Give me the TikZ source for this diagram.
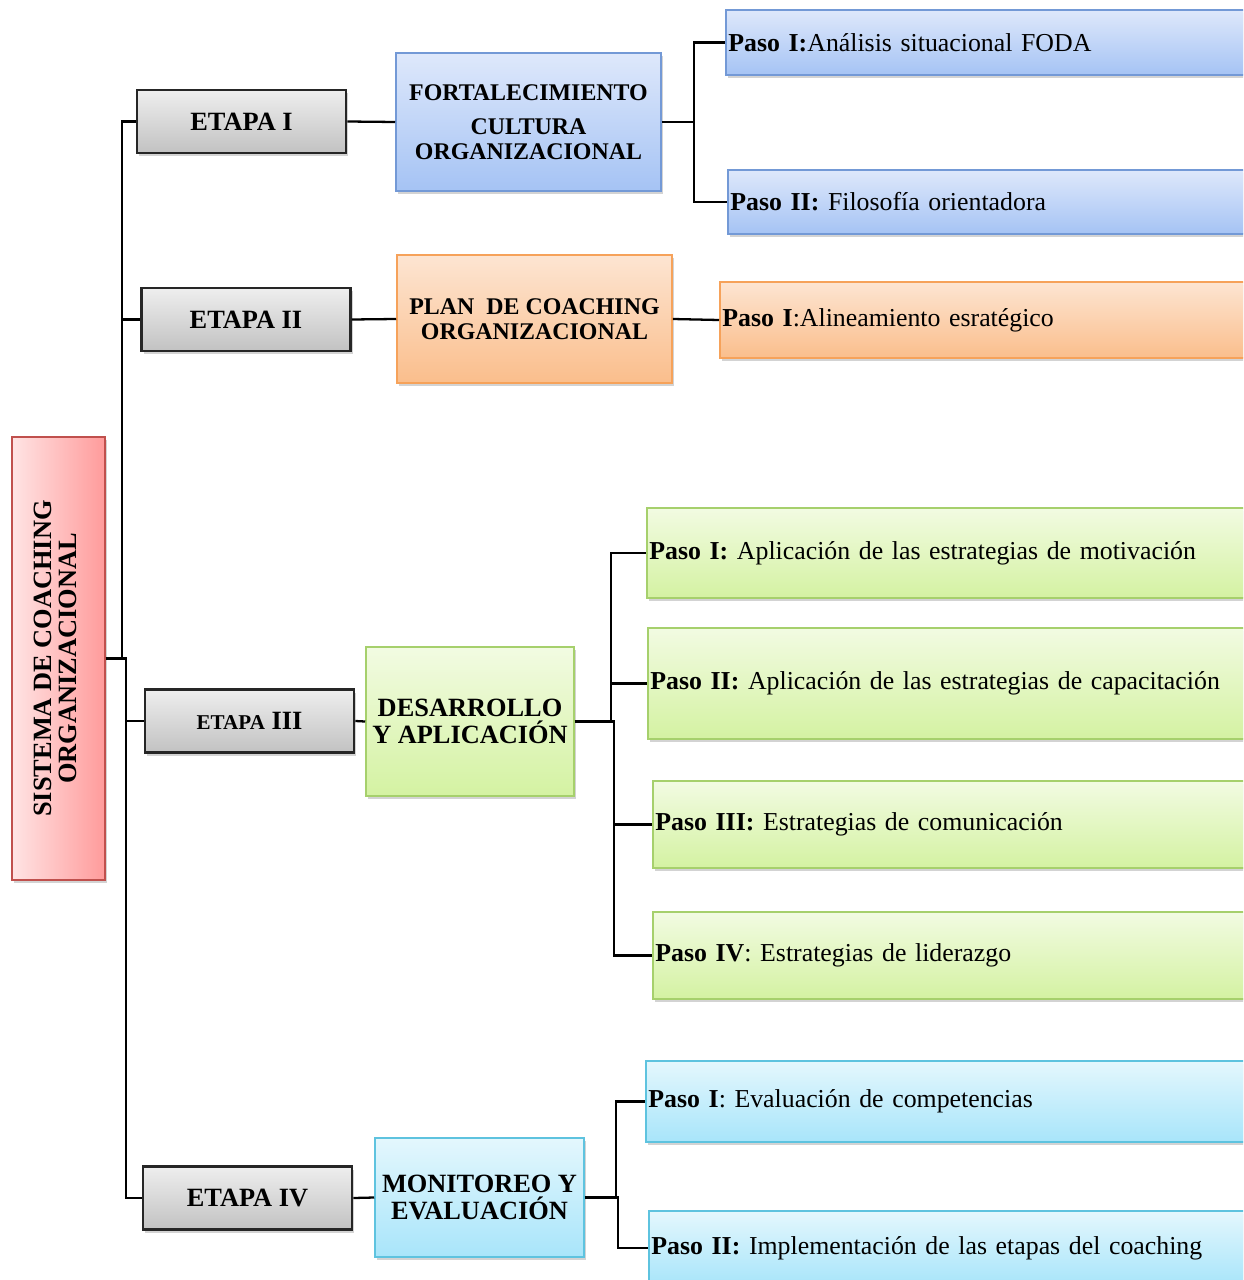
\documentclass[tikz,border=0pt]{standalone}
\usepackage{fontspec}
\setmainfont{Liberation Serif}
\usetikzlibrary{shapes,shadows,positioning}

\definecolor{grayTop}{HTML}{EEEEEE}
\definecolor{grayBot}{HTML}{C2C2C2}
\definecolor{redLeft}{HTML}{FFE4E4}
\definecolor{redRight}{HTML}{FF9B9B}
\definecolor{redEdge}{HTML}{C0504D}
\definecolor{blueTop}{HTML}{DEE8FB}
\definecolor{blueBot}{HTML}{A5C3F4}
\definecolor{blueEdge}{HTML}{7399D6}
\definecolor{orangeTop}{HTML}{FDE5D2}
\definecolor{orangeBot}{HTML}{FABE8C}
\definecolor{orangeEdge}{HTML}{F6A25A}
\definecolor{greenTop}{HTML}{F2FBE2}
\definecolor{greenBot}{HTML}{D4F2A2}
\definecolor{greenEdge}{HTML}{A6D06C}
\definecolor{cyanTop}{HTML}{E4F7FD}
\definecolor{cyanBot}{HTML}{A8E5FA}
\definecolor{cyanEdge}{HTML}{5EC3DF}

\begin{document}
\begin{tikzpicture}[x=0.02cm, y=-0.02cm, font=\fontsize{14.7}{15.5}\selectfont]
    \useasboundingbox (0,0) rectangle (1243,1280);
    \clip (0,0) rectangle (1243,1280);

    % Styles
    \tikzstyle{box} = [rectangle, line width=0.9pt, align=center, inner sep=2pt, drop shadow={shadow xshift=1.4pt, shadow yshift=-1.8pt, opacity=0.35}]
    \tikzstyle{etapa} = [box, draw=black!85, line width=1.5pt, top color=grayTop, bottom color=grayBot, minimum width=4.18cm, minimum height=1.26cm, font=\fontsize{15}{15.5}\selectfont\bfseries]
    \tikzstyle{title} = [box, font=\fontsize{15}{15.5}\selectfont\bfseries]
    \tikzstyle{paso} = [box, anchor=west, text width=12cm, align=left, inner xsep=1.5pt]
    \tikzstyle{blueset} = [draw=blueEdge, top color=blueTop, bottom color=blueBot]
    \tikzstyle{orangeset} = [draw=orangeEdge, top color=orangeTop, bottom color=orangeBot]
    \tikzstyle{greenset} = [draw=greenEdge, top color=greenTop, bottom color=greenBot]
    \tikzstyle{cyanset} = [draw=cyanEdge, top color=cyanTop, bottom color=cyanBot]
    \tikzstyle{wire} = [draw, line width=1.3pt]

    % Nodes
    \node [box, draw=redEdge, left color=redLeft, right color=redRight, minimum width=1.86cm, minimum height=8.86cm, font=\fontsize{15}{15.5}\selectfont\bfseries] (root) at (58.5,658.5)
        {\rotatebox{90}{\begin{tabular}{@{}c@{}}SISTEMA DE COACHING\\[-1pt] ORGANIZACIONAL\end{tabular}}};

    \node [etapa] (et1) at (241.5,121.5) {ETAPA I};
    \node [etapa] (et2) at (246,319.5) {ETAPA II};
    \node [etapa] (et3) at (249.5,721) {{\fontsize{12}{14}\selectfont ETAPA} III};
    \node [etapa] (et4) at (247.5,1198) {ETAPA IV};

    \node [title, blueset, minimum width=5.3cm, minimum height=2.76cm, font=\fontsize{13.6}{14.2}\selectfont\bfseries] (fort) at (528.5,122)
        {FORTALECIMIENTO\\[5pt] CULTURA\\ ORGANIZACIONAL};
    \node [title, orangeset, minimum width=5.5cm, minimum height=2.56cm, font=\fontsize{13.6}{14.2}\selectfont\bfseries] (plan) at (534.5,319)
        {PLAN \ DE COACHING\\ ORGANIZACIONAL};
    \node [title, greenset, minimum width=4.16cm, minimum height=2.98cm] (desa) at (470,721.5)
        {DESARROLLO\\ Y APLICACIÓN};
    \node [title, cyanset, minimum width=4.18cm, minimum height=2.38cm] (moni) at (479.5,1197.5)
        {MONITOREO Y\\ EVALUACIÓN};

    \node [paso, blueset, minimum height=1.3cm] (bp1) at (725,42.5) {\textbf{Paso I:}Análisis situacional FODA};
    \node [paso, blueset, minimum height=1.28cm] (bp2) at (727,202) {\textbf{Paso II:} Filosofía orientadora};
    \node [paso, orangeset, minimum height=1.52cm] (op1) at (719,320) {\textbf{Paso I}:Alineamiento esratégico};
    \node [paso, greenset, minimum height=1.8cm] (gp1) at (646,553) {\textbf{Paso I:} Aplicación de las estrategias de motivación};
    \node [paso, greenset, minimum height=2.22cm] (gp2) at (647,683.5) {\textbf{Paso II:} Aplicación de las estrategias de capacitación};
    \node [paso, greenset, minimum height=1.74cm] (gp3) at (652,824.5) {\textbf{Paso III:} Estrategias de comunicación};
    \node [paso, greenset, minimum height=1.74cm] (gp4) at (652,955.5) {\textbf{Paso IV}: Estrategias de liderazgo};
    \node [paso, cyanset, minimum height=1.62cm] (cp1) at (645,1101.5) {\textbf{Paso I}: Evaluación de competencias};
    \node [paso, cyanset, minimum height=1.48cm] (cp2) at (648,1248) {\textbf{Paso II:} Implementación de las etapas del coaching};

    % Edges
    \path [wire] (root.east) -- ++(16,0) |- (et1.west);
    \path [wire] (root.east) -- ++(16,0) |- (et2.west);
    \path [wire] (root.east) -- ++(20,0) |- (et3.west);
    \path [wire] (root.east) -- ++(20,0) |- (et4.west);

    \path [wire] (et1.east) -- (fort.west);
    \path [wire] (et2.east) -- (plan.west);
    \path [wire] (et3.east) -- (desa.west);
    \path [wire] (et4.east) -- (moni.west);

    % Steps of each stage
    \path [wire] (fort.east) -- ++(32,0) |- (bp1.west);
    \path [wire] (fort.east) -- ++(32,0) |- (bp2.west);
    \path [wire] (plan.east) -- (op1.west);
    \path [wire] (desa.east) -- ++(36,0) |- (gp1.west);
    \path [wire] (desa.east) -- ++(36,0) |- (gp2.west);
    \path [wire] (desa.east) -- ++(39,0) |- (gp3.west);
    \path [wire] (desa.east) -- ++(39,0) |- (gp4.west);
    \path [wire] (moni.east) -- ++(31,0) |- (cp1.west);
    \path [wire] (moni.east) -- ++(33,0) |- (cp2.west);

\end{tikzpicture}
\end{document}
